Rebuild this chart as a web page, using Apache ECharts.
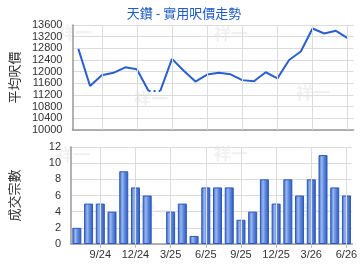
<!DOCTYPE html>
<html><head><meta charset="utf-8">
<script src="https://cdn.jsdelivr.net/npm/echarts@6/dist/echarts.min.js"></script>
<style>html,body{margin:0;padding:0;background:#fff}#c{width:360px;height:270px}</style>
</head><body><div id="c"></div>
<script>
const titleText = '天鑽 - 實用呎價走勢';
const priceAxisName = '平均呎價';
const countAxisName = '成交宗數';
const months = ['7/24','8/24','9/24','10/24','11/24','12/24','1/25','2/25','3/25','4/25','5/25','6/25',
                '7/25','8/25','9/25','10/25','11/25','12/25','1/26','2/26','3/26','4/26','5/26','6/26'];
const avgPrice = [12780,11510,11880,11960,12150,12080,11340,11340,12440,12030,11660,11900,
                  11960,11910,11710,11670,11980,11770,12400,12690,13480,13310,13400,13150];
const dealCount = [2,5,5,4,9,7,6,0,4,5,1,7,7,7,3,4,8,5,8,6,8,11,7,6];
const noDealIndex = [7];
const watermark = '祥一';

const labelIdx = i => i % 3 === 2;
const gridMarks = months.filter((m,i)=>labelIdx(i)).map(m=>({xAxis:m}));

const solidA = avgPrice.map((v,i)=> i < noDealIndex[0] ? v : null);
const solidB = avgPrice.map((v,i)=> i >= noDealIndex[0] ? v : null);
const dotted = avgPrice.map((v,i)=> (i === noDealIndex[0]-1 || i === noDealIndex[0]) ? v : null);
const bars = dealCount.map(v => v === 0 ? null : v);

const font = '"Liberation Sans", Arial, "Noto Sans CJK TC", sans-serif';
const cjk = '"Noto Sans CJK TC", sans-serif';
const lineColor = '#2a5fcf';
const axisLine = {show:true, lineStyle:{color:'#999', width:1.5}};
const splitLine = {show:true, lineStyle:{color:'#dcdcdc', width:1}};
const vLines = {silent:true, symbol:['none','none'], label:{show:false},
  lineStyle:{color:'#dcdcdc', width:1, type:'solid'}, data:gridMarks, animation:false};

const wm = (x,y)=>({type:'text', left:x, top:y, z:-1, silent:true,
  style:{text:watermark, fill:'#f1f1f1', font:'bold 17px '+cjk}});

const chart = echarts.init(document.getElementById('c'), null, {renderer:'canvas'});
chart.setOption({
  animation:false,
  backgroundColor:'#fff',
  title:{text:titleText, left:179, top:2, textAlign:'center',
    textStyle:{color:'#1e5bc6', fontSize:13, fontWeight:'normal', fontFamily:cjk}},
  graphic:[wm(58,24),wm(134,90),wm(214,25),wm(296,84),wm(56,146),wm(138,203),wm(214,145),wm(296,203)],
  grid:[
    {left:65, right:6.5, top:25, height:105},
    {left:65, right:6.5, top:147, height:97}
  ],
  xAxis:[
    {type:'category', gridIndex:0, data:months, boundaryGap:true,
     axisLine:axisLine, axisTick:{show:false}, axisLabel:{show:false}, splitLine:{show:false}},
    {type:'category', gridIndex:1, data:months, boundaryGap:true,
     axisLine:axisLine,
     axisTick:{show:true, alignWithLabel:true, interval:labelIdx, length:4, lineStyle:{color:'#bbb'}},
     axisLabel:{show:true, interval:labelIdx, color:'#333', fontSize:11, fontFamily:font, margin:5},
     splitLine:{show:false}}
  ],
  yAxis:[
    {type:'value', gridIndex:0, min:10000, max:13600, interval:400,
     name:priceAxisName, nameLocation:'middle', nameRotate:90, nameGap:50,
     nameTextStyle:{color:'#333', fontSize:13, fontFamily:cjk},
     axisLine:axisLine, axisTick:{show:false},
     axisLabel:{color:'#333', fontSize:11, fontFamily:font, margin:10, formatter:v=>String(v)},
     splitLine:splitLine},
    {type:'value', gridIndex:1, min:0, max:12, interval:2,
     name:countAxisName, nameLocation:'middle', nameRotate:90, nameGap:50,
     nameTextStyle:{color:'#333', fontSize:13, fontFamily:cjk},
     axisLine:axisLine, axisTick:{show:false},
     axisLabel:{color:'#333', fontSize:11, fontFamily:font, margin:10, formatter:v=>String(v)},
     splitLine:splitLine}
  ],
  series:[
    {type:'line', xAxisIndex:0, yAxisIndex:0, data:solidA, showSymbol:false, connectNulls:false,
     lineStyle:{color:lineColor, width:2}, itemStyle:{color:lineColor}, markLine:vLines, z:3},
    {type:'line', xAxisIndex:0, yAxisIndex:0, data:solidB, showSymbol:false, connectNulls:false,
     lineStyle:{color:lineColor, width:2}, itemStyle:{color:lineColor}, z:3},
    {type:'line', xAxisIndex:0, yAxisIndex:0, data:dotted, showSymbol:false, connectNulls:false,
     lineStyle:{color:lineColor, width:2, type:[2,3]}, itemStyle:{color:lineColor}, z:3},
    {type:'bar', xAxisIndex:1, yAxisIndex:1, data:bars, barWidth:9, markLine:vLines,
     itemStyle:{borderColor:'#2c58bd', borderWidth:1,
       color:new echarts.graphic.LinearGradient(0,0,1,0,[
         {offset:0, color:'#3663c4'},{offset:0.35, color:'#9ab7ee'},
         {offset:0.6, color:'#5f8ade'},{offset:1, color:'#2a55b8'}])}}
  ]
});
</script></body></html>
